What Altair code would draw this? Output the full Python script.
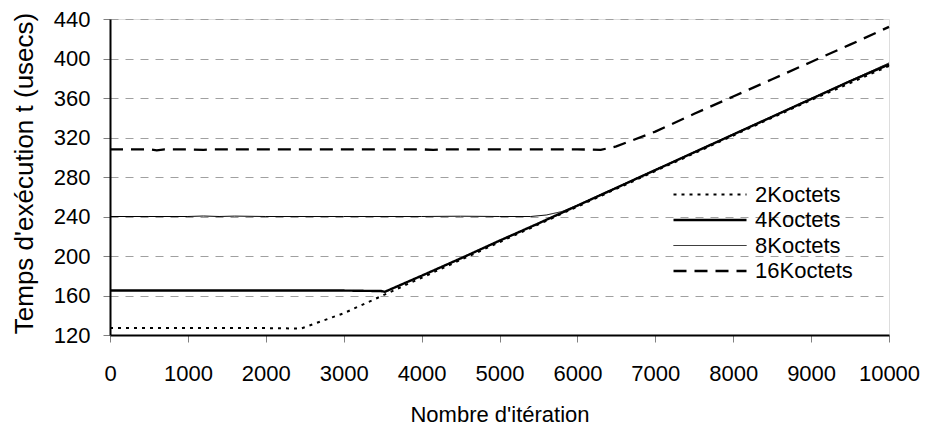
import altair as alt
import pandas as pd

series = ["2Koctets", "4Koctets", "8Koctets", "16Koctets"]

x_2k = [0, 500, 1000, 1500, 2000, 2450, 3000, 3500, 4000, 4500, 5000, 5500,
        6000, 6500, 7000, 7500, 8000, 8500, 9000, 9500, 10000]
y_2k = [127, 127, 127, 127, 127, 126.5, 142, 160, 178, 196, 214, 232,
        250, 268, 286, 304, 322, 340, 358, 375, 392.5]

x_4k = [0, 500, 1000, 1500, 2000, 2500, 3000, 3480, 3530, 4000, 4500, 5000,
        5500, 6000, 6500, 7000, 7500, 8000, 8500, 9000, 9500, 10000]
y_4k = [165, 165, 165, 165, 165, 165, 165, 164.5, 163.8, 180, 197.5, 215.5,
        233, 251, 269, 287, 305, 323, 341, 359, 377, 394]

x_8k = [0, 500, 1000, 1200, 1400, 1600, 2000, 3000, 4000, 4500, 5000, 5400,
        5600, 5800, 6000, 6500, 7000, 7500, 8000, 8500, 9000, 9500, 10000]
y_8k = [240, 240, 240, 240.5, 240, 240.4, 240, 240, 240, 240.3, 240, 240,
        241.5, 245, 251.5, 269.5, 287.5, 305.5, 323.5, 341.5, 359.5, 377.5, 395.5]

x_16k = [0, 500, 600, 700, 1000, 1200, 1300, 2000, 3000, 4000, 4150, 4300,
         5000, 6000, 6300, 6500, 7000, 7500, 8000, 8500, 9000, 9500, 10000]
y_16k = [308, 308, 307, 308, 308, 307.5, 308, 308, 308, 308, 307.5, 308,
         308, 308, 307.5, 311, 326, 344, 361.5, 379, 396.5, 414, 432]

x_ticks = [0, 1000, 2000, 3000, 4000, 5000, 6000, 7000, 8000, 9000, 10000]
y_ticks = [120, 160, 200, 240, 280, 320, 360, 400, 440]

dashes = [[3, 5], [1, 0], [1, 0], [13, 8]]
widths = [2, 2.4, 1, 2.3]
colors = ["#000000", "#000000", "#000000", "#000000"]

rows = []
for name, xs, ys in zip(series, [x_2k, x_4k, x_8k, x_16k], [y_2k, y_4k, y_8k, y_16k]):
    for xv, yv in zip(xs, ys):
        rows.append({"serie": name, "iter": xv, "temps": yv})
df = pd.DataFrame(rows)

FONT = "Liberation Sans"

legend = alt.Legend(
    title=None,
    orient="none",
    legendX=562,
    legendY=164,
    symbolType="stroke",
    symbolSize=5329,
    clipHeight=23,
    rowPadding=2.5,
    labelFontSize=22,
    labelFont=FONT,
    labelColor="#000000",
    labelOffset=7,
    padding=0,
)

chart = alt.Chart(df).mark_line(interpolate="linear").encode(
    x=alt.X("iter:Q",
            scale=alt.Scale(domain=[0, 10000], nice=False),
            axis=alt.Axis(values=x_ticks, format="d", title="Nombre d'itération",
                          grid=False, tickSize=7, tickColor="#808080",
                          domainColor="#000000", domainWidth=2,
                          labelFont=FONT, labelFontSize=22, labelColor="#000000",
                          labelBaseline="alphabetic", labelPadding=38,
                          labelFlush=False, labelOverlap=False,
                          titleFont=FONT, titleFontSize=22, titleFontWeight="normal",
                          titleColor="#000000", titleBaseline="alphabetic",
                          titleY=86)),
    y=alt.Y("temps:Q",
            scale=alt.Scale(domain=[120, 440], nice=False, zero=False),
            axis=alt.Axis(values=y_ticks, format="d", title="Temps d'exécution t (usecs)",
                          grid=True, gridColor="#a0a0a0", gridDash=[8, 7], gridWidth=1,
                          tickSize=7, tickColor="#808080",
                          domainColor="#000000", domainWidth=2,
                          labelFont=FONT, labelFontSize=22, labelColor="#000000",
                          labelPadding=13, labelFlush=False, labelOverlap=False,
                          titleFont=FONT, titleFontSize=26, titleFontWeight="normal",
                          titleColor="#000000", titleAngle=270, titleAlign="center",
                          titleBaseline="middle", titleX=-86, titleY=154)),
    color=alt.Color("serie:N", scale=alt.Scale(domain=series, range=colors), legend=legend),
    strokeDash=alt.StrokeDash("serie:N", scale=alt.Scale(type="ordinal", domain=series, range=dashes), legend=legend),
    strokeWidth=alt.StrokeWidth("serie:N", scale=alt.Scale(type="ordinal", domain=series, range=widths), legend=legend),
).properties(
    width=779,
    height=316,
    autosize=alt.AutoSizeParams(type="none"),
    padding={"left": 102, "top": 11, "right": 32, "bottom": 92},
).configure_view(
    stroke="#000000", strokeWidth=1
).configure(background="#ffffff")

chart.save("out.html", embed_options={"renderer": "svg", "actions": False})
